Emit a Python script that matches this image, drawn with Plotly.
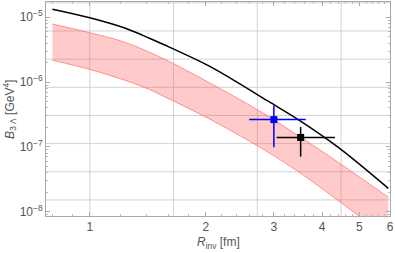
import numpy as np
import plotly.graph_objects as go

# Black theory curve
curve_x = [0.80, 1.0, 1.237, 1.427, 1.553, 2.035, 2.33, 2.90, 3.47, 4.39, 5.94]
curve_y = [1.33e-5, 9.8e-6, 6.75e-6, 4.75e-6, 3.8e-6, 1.78e-6, 1.12e-6, 5.07e-7, 2.64e-7, 1.0e-7, 2.29e-8]

# Pink band
band_up_x = [0.80, 1.0, 1.237, 1.553, 2.035, 2.735, 3.53, 4.39, 5.94]
band_up_y = [7.87e-6, 5.77e-6, 4.09e-6, 2.29e-6, 9.89e-7, 3.67e-7, 1.40e-7, 5.87e-8, 1.68e-8]
band_lo_x = [0.80, 1.0, 1.237, 1.427, 1.553, 2.035, 2.735, 3.53, 4.94, 5.94]
band_lo_y = [2.17e-6, 1.57e-6, 1.06e-6, 7.69e-7, 6.06e-7, 2.73e-7, 1.02e-7, 3.88e-8, 8.95e-9, 4.0e-9]

# Data points
blue_x, blue_y = [3.0], [2.64e-7]
blue_xerr_minus, blue_xerr_plus = [0.41], [0.63]
blue_yerr_minus, blue_yerr_plus = [1.65e-7], [1.70e-7]
black_x, black_y = [3.52], [1.40e-7]
black_xerr_minus, black_xerr_plus = [0.47], [0.80]
black_yerr_minus, black_yerr_plus = [0.69e-7], [0.63e-7]

x_ticks = [1, 2, 3, 4, 5, 6]
y_ticks = [1e-8, 1e-7, 1e-6, 1e-5]
y_ticktext = ["10<sup>−8</sup>", "10<sup>−7</sup>", "10<sup>−6</sup>", "10<sup>−5</sup>"]

grid_x = [1.0, np.exp(0.5), np.e, np.exp(1.5)]
grid_y = [np.exp(-k) for k in range(11, 19)]

xr = [0.77, 6.0]
yr = [8.6e-9, 1.72e-5]

fig = go.Figure()
gcol = "rgba(200,200,200,0.8)"
for g in grid_x:
    fig.add_trace(go.Scatter(x=[g, g], y=yr, mode="lines", line=dict(color=gcol, width=1),
                             hoverinfo="skip", showlegend=False))
for g in grid_y:
    fig.add_trace(go.Scatter(x=xr, y=[g, g], mode="lines", line=dict(color=gcol, width=1),
                             hoverinfo="skip", showlegend=False))

fig.add_trace(go.Scatter(x=band_lo_x, y=band_lo_y, mode="lines",
                         line=dict(color="rgba(255,110,110,0.9)", width=0.8, shape="spline"),
                         showlegend=False))
fig.add_trace(go.Scatter(x=band_up_x, y=band_up_y, mode="lines", fill="tonexty",
                         fillcolor="rgba(255,60,60,0.27)",
                         line=dict(color="rgba(255,110,110,0.9)", width=0.8, shape="spline"),
                         showlegend=False))
fig.add_trace(go.Scatter(x=curve_x, y=curve_y, mode="lines",
                         line=dict(color="black", width=1.5, shape="spline"), showlegend=False))

fig.add_trace(go.Scatter(
    x=blue_x, y=blue_y, mode="markers",
    marker=dict(symbol="square", size=7, color="#0000ff"),
    error_x=dict(type="data", symmetric=False, array=blue_xerr_plus, arrayminus=blue_xerr_minus,
                 color="#0000ff", thickness=1.5, width=0),
    error_y=dict(type="data", symmetric=False, array=blue_yerr_plus, arrayminus=blue_yerr_minus,
                 color="#0000ff", thickness=1.5, width=0),
    showlegend=False))
fig.add_trace(go.Scatter(
    x=black_x, y=black_y, mode="markers",
    marker=dict(symbol="square", size=7, color="black"),
    error_x=dict(type="data", symmetric=False, array=black_xerr_plus, arrayminus=black_xerr_minus,
                 color="black", thickness=1.5, width=0),
    error_y=dict(type="data", symmetric=False, array=black_yerr_plus, arrayminus=black_yerr_minus,
                 color="black", thickness=1.5, width=0),
    showlegend=False))

x_minor = [0.8, 0.9, 1.2, 1.4, 1.6, 1.8, 2.2, 2.4, 2.6, 2.8, 3.2, 3.4, 3.6, 3.8, 4.2, 4.4, 4.6, 4.8, 5.2, 5.4, 5.6, 5.8]
y_minor = [m * 10.0 ** e for e in range(-9, -4) for m in range(2, 10)]

tickfont = dict(family="Liberation Sans, Arial, sans-serif", size=12, color="#555555")
titlefont = dict(family="Liberation Sans, Arial, sans-serif", size=12, color="#555555")
fig.update_layout(
    width=395, height=253,
    margin=dict(l=46, r=5, t=2, b=37),
    paper_bgcolor="white", plot_bgcolor="white",
    font=tickfont,
    xaxis=dict(type="log", range=[np.log10(xr[0]), np.log10(xr[1])], automargin=False,
               tickvals=x_ticks, ticktext=[str(v) for v in x_ticks],
               showgrid=False, zeroline=False,
               showline=True, linecolor="#aaaaaa", linewidth=1, mirror="ticks",
               ticks="inside", ticklen=4, tickcolor="#aaaaaa",
               minor=dict(tickvals=x_minor, ticks="inside", ticklen=2, tickcolor="#bbbbbb", showgrid=False),
               tickfont=tickfont),
    yaxis=dict(type="log", range=[np.log10(yr[0]), np.log10(yr[1])], automargin=False,
               tickvals=y_ticks, ticktext=y_ticktext,
               showgrid=False, zeroline=False,
               showline=True, linecolor="#aaaaaa", linewidth=1, mirror="ticks",
               ticks="inside", ticklen=4, tickcolor="#aaaaaa",
               minor=dict(tickvals=y_minor, ticks="inside", ticklen=2, tickcolor="#bbbbbb", showgrid=False),
               tickfont=tickfont),
    annotations=[
        dict(text="<i>R</i><sub>inv</sub> [fm]", xref="paper", yref="paper", x=0.5, y=-0.125,
             xanchor="center", yanchor="middle", showarrow=False, font=titlefont),
        dict(text="<i>B</i><sub>3 Λ</sub> [GeV<sup>4</sup>]", xref="paper", yref="paper",
             x=-0.105, y=0.5, xanchor="center", yanchor="middle", textangle=-90,
             showarrow=False, font=titlefont),
    ],
)

fig.write_html("out.html", config={"displayModeBar": False},
               post_script="document.body.style.margin='0px';")
